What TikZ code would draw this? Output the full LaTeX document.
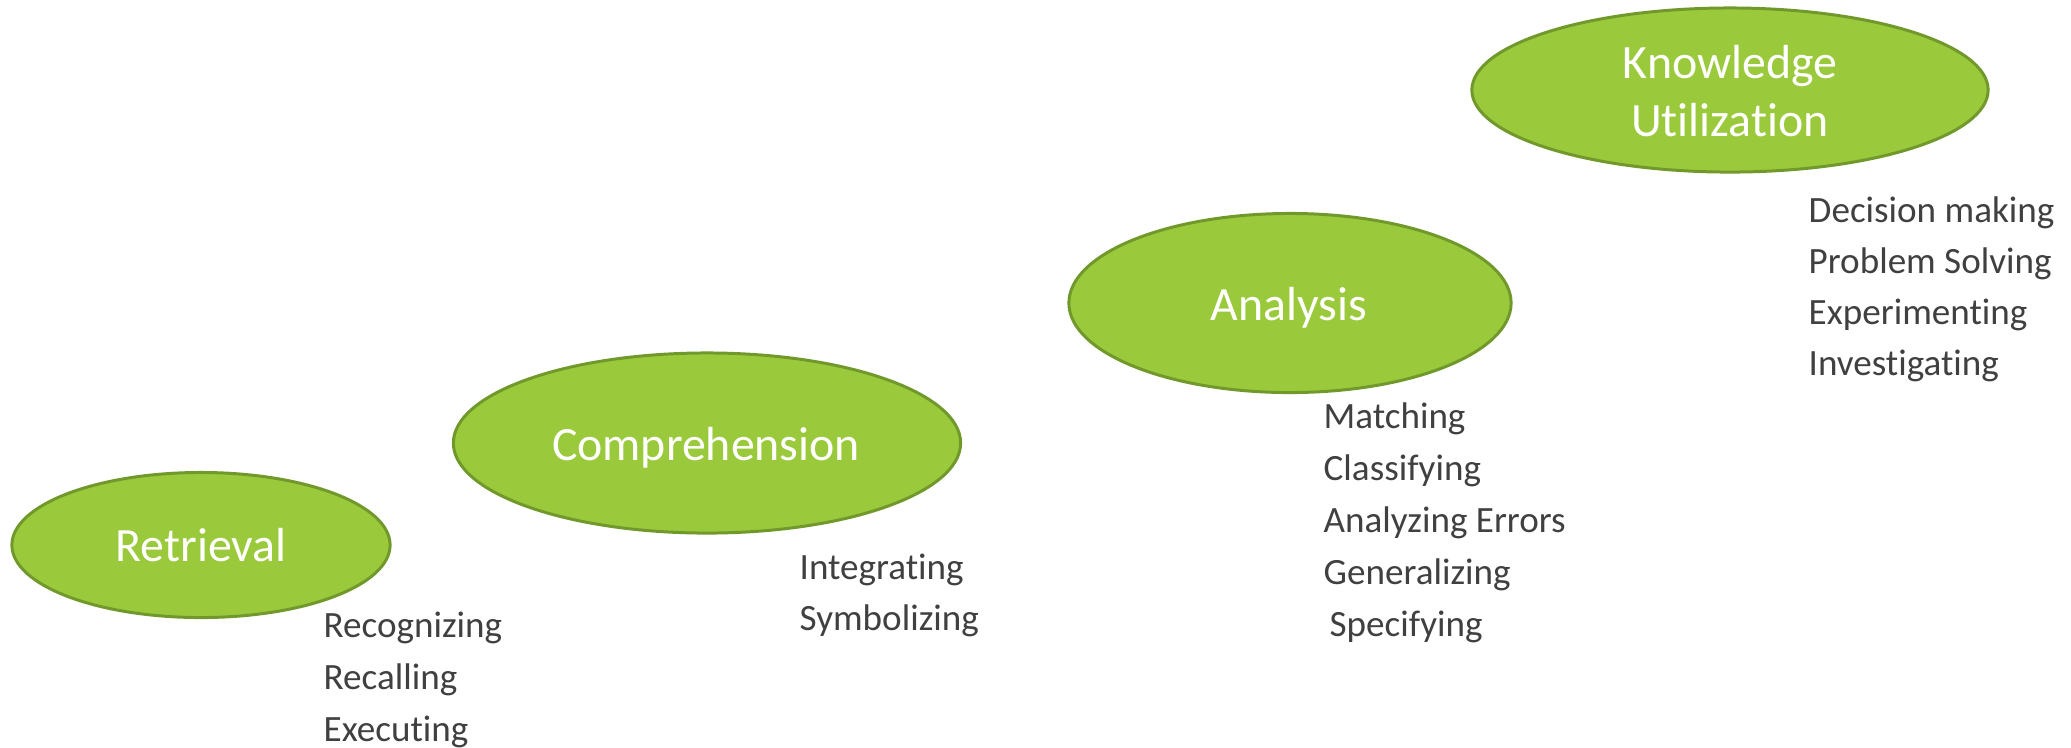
\documentclass[tikz,border=0pt]{standalone}
\usepackage{fontspec}
\setmainfont{Carlito}[Ligatures=CommonOff]
\usetikzlibrary{positioning,shapes.geometric}
\definecolor{leaf}{HTML}{9ACA3C}
\definecolor{leafline}{HTML}{71982B}
\definecolor{txtgray}{HTML}{404040}
\tikzset{
  stage/.style={ellipse,draw=leafline,fill=leaf,line width=0.85pt,inner sep=0pt},
  stagetxt/.style={anchor=base,inner sep=0pt,text=white,font=\fontsize{13.6}{16}\selectfont},
  item/.style={anchor=base west,inner sep=0pt,text=txtgray,font=\fontsize{10.55}{12}\selectfont},
}

\begin{document}
\begin{tikzpicture}[x=0.01cm,y=-0.01cm]
  \useasboundingbox (0,0) rectangle (2071,747);
  % the four levels, climbing to the right
  \node[stage,minimum width=3.78cm,minimum height=1.45cm] (ret)  at (201,545)  {};
  \node[stage,minimum width=5.07cm,minimum height=1.80cm] (comp) at (707,443)  {};
  \node[stage,minimum width=4.42cm,minimum height=1.79cm] (ana)  at (1290,303) {};
  \node[stage,minimum width=5.16cm,minimum height=1.64cm] (know) at (1730,90)  {};
  \node[stagetxt] (rettxt)  at (201,561)  {Retrieval};
  \node[stagetxt] (comptxt) at (706,460)  {Comprehension};
  \node[stagetxt] (anatxt)  at (1289,320) {Analysis};
  \node[stagetxt,anchor=center,align=center,font=\fontsize{13.6}{16.5}\selectfont]
    (knowtxt) at (1730,91) {Knowledge\\Utilization};
  % verbs below each level
  \foreach \w [count=\i] in {Recognizing,Recalling,Executing}
    \node[item] (retv\i) at (323,{637+52*(\i-1)}) {\w};
  \foreach \w [count=\i] in {Integrating,Symbolizing}
    \node[item] (compv\i) at (799,{579+51*(\i-1)}) {\w};
  \foreach \w/\x [count=\i] in {Matching/1323,Classifying/1323,Analyzing Errors/1323,
      Generalizing/1323,Specifying/1329}
    \node[item] (anav\i) at (\x,{428+52*(\i-1)}) {\w};
  \foreach \w [count=\i] in {Decision making,Problem Solving,Experimenting,Investigating}
    \node[item] (knowv\i) at (1808,{222+51*(\i-1)}) {\w};
\end{tikzpicture}
\end{document}
